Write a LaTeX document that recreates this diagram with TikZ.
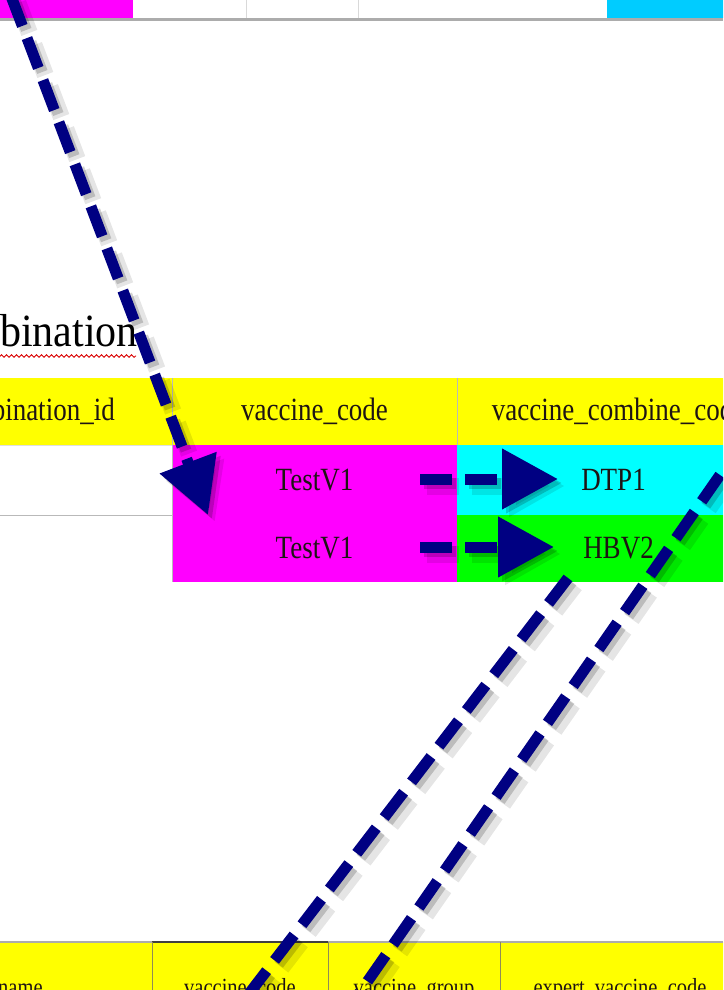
\documentclass[tikz,border=0pt]{standalone}
\usepackage{fontspec}
\setmainfont{Liberation Serif}
\usetikzlibrary{arrows.meta,decorations.pathmorphing}

\definecolor{navyline}{RGB}{0,0,130}
\definecolor{cellmagenta}{RGB}{255,0,255}
\definecolor{celltopcyan}{RGB}{0,204,255}
\definecolor{cellcyan}{RGB}{0,255,255}
\definecolor{cellgreen}{RGB}{0,255,0}
\definecolor{cellyellow}{RGB}{255,255,0}
\definecolor{celltext}{RGB}{30,20,20}

% cell labels are set slightly taller than wide
\newcommand\tallt[1]{\scalebox{1}[1.2]{#1}}

% a dashed link with a soft drop shadow underneath
\newcommand\shadedlink[3]{%
  \draw[link,#1,draw=black,opacity=0.10,line width=17pt,transform canvas={shift={(7pt,-7pt)}}] (#2) -- (#3);
  \draw[link,#1,draw=black,opacity=0.18,transform canvas={shift={(4pt,-4pt)}}] (#2) -- (#3);
  \draw[link,#1] (#2) -- (#3);
}

\begin{document}
\begin{tikzpicture}[x=1pt,y=-1pt,
  cell/.style={rectangle, inner sep=0pt, outer sep=0pt, draw=none, text=celltext},
  midtext/.style={font=\fontsize{27}{30}\selectfont},
  lowtext/.style={font=\fontsize{20.5}{24}\selectfont, text height=0pt, text depth=0pt},
  grid/.style={draw=gray!55, line width=1pt},
  link/.style={draw=navyline, line width=11pt, dash pattern=on 32pt off 13pt},
  head/.style={-{Triangle[length=56pt,width=58pt]}}]

\useasboundingbox (0,0) rectangle (723,990);
\clip (0,0) rectangle (723,990);

% ---- upper table, last row
\node[cell, fill=cellmagenta, minimum width=153pt, minimum height=18pt] (t1) at (56.5,9) {};
\node[cell, minimum width=113pt, minimum height=18pt] (t2) at (189.5,9) {};
\node[cell, minimum width=112pt, minimum height=18pt] (t3) at (302,9) {};
\node[cell, minimum width=249pt, minimum height=18pt] (t4) at (482.5,9) {};
\node[cell, fill=celltopcyan, minimum width=133pt, minimum height=18pt] (t5) at (673.5,9) {};
\draw[draw=gray!30, line width=1pt] (t2.north east) -- (t2.south east);
\draw[draw=gray!30, line width=1pt] (t3.north east) -- (t3.south east);
\draw[draw=gray!65, line width=2.5pt] (0,19.5) -- (723,19.5);

% ---- table title
\node[anchor=base east, inner sep=0pt, text=black, font=\fontsize{42}{46}\selectfont] (title) at (138,346) {\scalebox{1}[1.1]{vaccine\_combination}};
\draw[red!85!black, line width=0.9pt, decorate, decoration={snake, segment length=5pt, amplitude=1.3pt}]
  (-5,356) -- (136,356);

% ---- middle table: header
\node[cell, midtext, fill=cellyellow, minimum width=284pt, minimum height=67pt] (h1) at (30,411.5) {\tallt{combination\_id}};
\node[cell, midtext, fill=cellyellow, minimum width=285pt, minimum height=67pt] (h2) at (314.5,411.5) {\tallt{vaccine\_code}};
\node[cell, midtext, fill=cellyellow, minimum width=323pt, minimum height=67pt] (h3) at (618.5,411.5) {\tallt{vaccine\_combine\_code}};

% ---- middle table: rows
\node[cell, midtext, minimum width=284pt, minimum height=70pt] (a1) at (30,480) {};
\node[cell, midtext, fill=cellmagenta, minimum width=285pt, minimum height=70pt] (b1) at (314.5,480) {\tallt{TestV1}};
\node[cell, midtext, fill=cellcyan, minimum width=323pt, minimum height=70pt] (c1) at (618.5,480) {\hspace*{-10pt}\tallt{DTP1}};
\node[cell, midtext, minimum width=284pt, minimum height=67pt] (a2) at (30,548.5) {};
\node[cell, midtext, fill=cellmagenta, minimum width=285pt, minimum height=67pt] (b2) at (314.5,548.5) {\tallt{TestV1}};
\node[cell, midtext, fill=cellgreen, minimum width=323pt, minimum height=67pt] (c2) at (618.5,548.5) {\tallt{HBV2}};

\draw[grid] (h1.north east) -- (a2.south east);
\draw[grid] (h2.north east) -- (h2.south east);
\draw[grid] (a1.south west) -- (a1.south east);
\draw[draw=gray!25, line width=0.8pt] (a1.north west) -- (a1.north east);

% ---- lower table: header
\node[cell, lowtext, fill=cellyellow, minimum width=336pt, minimum height=106pt] (k1) at (-16,995) {\tallt{vaccine\_name}};
\node[cell, lowtext, fill=cellyellow, minimum width=176pt, minimum height=106pt] (k2) at (240,995) {\tallt{vaccine\_code}};
\node[cell, lowtext, fill=cellyellow, minimum width=172pt, minimum height=106pt] (k3) at (414,995) {\tallt{vaccine\_group}};
\node[cell, lowtext, fill=cellyellow, minimum width=240pt, minimum height=106pt] (k4) at (620,995) {\tallt{expert\_vaccine\_code}};
\draw[draw=gray!65, line width=2pt] (0,942) -- (723,942);
\draw[draw=black!75, line width=2pt] (k2.north west) -- (k2.north east);
\draw[draw=gray!60!olive, line width=1pt] (k1.north east) -- (k1.south east);
\draw[draw=gray!60!olive, line width=1pt] (k2.north east) -- (k2.south east);
\draw[draw=gray!60!olive, line width=1pt] (k3.north east) -- (k3.south east);

% ---- link end points
\coordinate (p1s) at (11,-4);
\coordinate (p1e) at (208,515);
\coordinate (p2s) at (420,479);
\coordinate (p2e) at (558,479);
\coordinate (p3s) at (420,547);
\coordinate (p3e) at (554,547);
\coordinate (p4s) at (568,578);
\coordinate (p4e) at (248,995);
\coordinate (p5s) at (720,475);
\coordinate (p5e) at (358,995);

% ---- links
\shadedlink{head}{p1s}{p1e}
\shadedlink{head}{p2s}{p2e}
\shadedlink{head}{p3s}{p3e}
\shadedlink{}{p4s}{p4e}
\shadedlink{}{p5s}{p5e}

\end{tikzpicture}
\end{document}
